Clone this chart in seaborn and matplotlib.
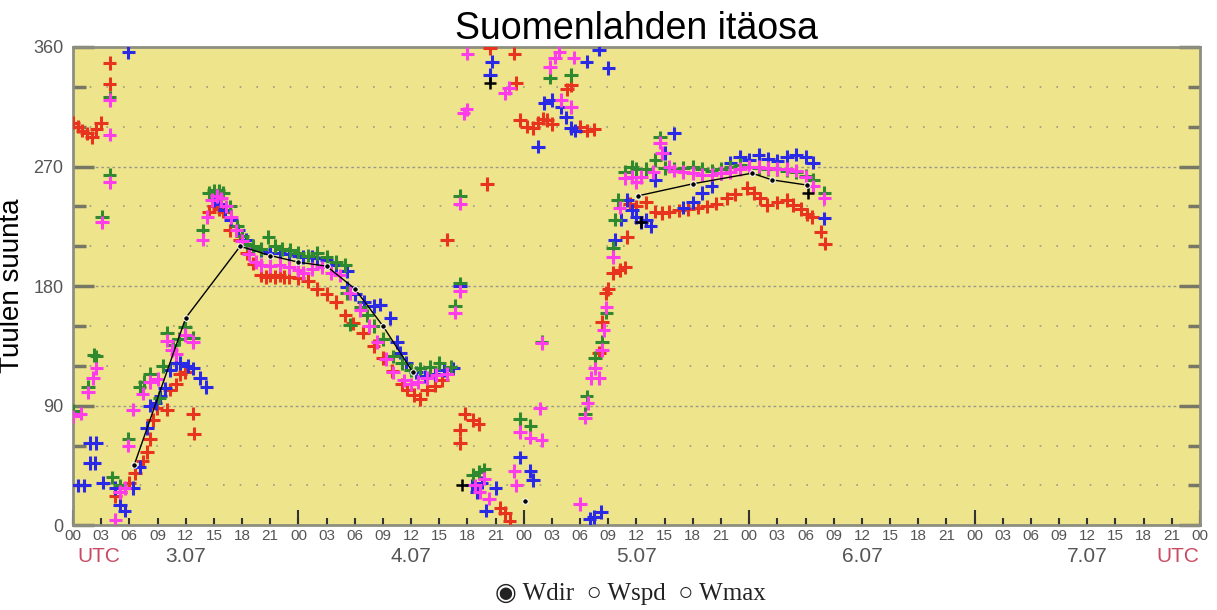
import pandas as pd
import matplotlib
matplotlib.use("Agg")
import matplotlib.pyplot as plt
import matplotlib.transforms as mtransforms
import seaborn as sns
from matplotlib.ticker import FixedLocator

# ------------------------ data: (hours from 3.07 00 UTC, wind direction) ------------------------
red = [
    (0, 303), (0.5, 300), (1, 297), (1.5, 295), (2, 292), (2.5, 298), (3, 303), (3.9, 348), (3.9, 332),
    (4.5, 22), (5, 25), (6, 32), (6.6, 39), (7.4, 48), (7.9, 55), (8.2, 65), (8.5, 79), (8.9, 88), (10, 87),
    (10.3, 102), (11, 106), (11.4, 114), (11.9, 115), (12.8, 84), (12.9, 69),
    (14.5, 236), (15, 240), (15.5, 238), (16, 236), (16.7, 222), (17.8, 215), (18.5, 205), (19.2, 197),
    (20, 188), (20.5, 187), (21, 188), (21.5, 187), (22, 188), (22.5, 187), (23, 187), (24, 186), (25, 184),
    (26, 178), (27, 174), (28, 168), (29, 158), (29.8, 152), (30.9, 145), (32, 135), (33, 126), (34, 116),
    (35, 106), (35.6, 102), (36.3, 98), (37, 95), (37.7, 102), (38.5, 105), (39.3, 109),
    (39.8, 215), (41.2, 62), (41.2, 72), (41.7, 84), (42.6, 79), (43.2, 76), (44.1, 257), (44.4, 359),
    (45.5, 13), (46, 9), (46.5, 3), (47, 355), (47.2, 333), (47.6, 305), (48.3, 300), (49, 299), (49.5, 303),
    (50, 306), (50.5, 305), (51, 302), (52.6, 328), (53, 331), (54, 300), (54.7, 297), (55.5, 298),
    (56, 130), (56.3, 153), (56.7, 175), (57, 178), (57.5, 190), (58.2, 192), (58.8, 194), (59, 217),
    (59.3, 242), (60, 240), (61, 243), (62, 236), (62.7, 235), (63.5, 236), (64.5, 237), (65.5, 238),
    (66.5, 239), (67.5, 240), (68.5, 242), (69.6, 246), (70.5, 249), (71.8, 254), (72.5, 250), (73.2, 246),
    (73.9, 241), (75, 243), (76, 245), (76.7, 241), (77.5, 238), (78.2, 234), (78.7, 232), (79.6, 221),
    (80.1, 212),
]

blue = [
    (0.5, 30), (1.2, 30), (1.8, 47), (2.3, 47), (1.8, 62), (2.5, 62), (3.2, 32), (4.5, 28), (5, 15),
    (5.5, 11), (5.9, 356), (6.4, 28), (7.1, 44), (7.9, 73), (8.2, 90), (8.8, 92), (9.3, 97), (9.8, 103),
    (10.3, 117), (11, 122), (11.4, 122), (12.2, 120), (12.8, 118), (13.5, 111), (14.2, 104),
    (15, 245), (15.6, 242), (16.2, 237), (16.8, 230), (17.6, 222), (18.4, 215), (19.2, 209), (20, 207),
    (21, 205), (22, 205), (23, 204), (24, 203), (24.5, 202), (25.5, 202), (26, 201), (27, 200), (28, 196),
    (29.2, 191), (29.2, 179), (30, 174), (31, 168), (32, 165), (32.7, 166), (33.8, 156), (34.5, 138),
    (34.8, 130), (35.5, 122), (36.5, 115), (37.5, 112), (38.5, 114), (39.5, 117), (40.5, 118),
    (41.2, 180), (42.5, 30), (43, 25), (43.5, 32), (44, 11), (44.4, 339), (44.6, 349), (45, 28),
    (47.6, 51), (48.7, 41), (49, 34), (49.5, 285), (50.2, 318), (51, 320), (52, 315), (52.5, 307), (53, 299),
    (53.5, 297), (54.7, 349), (55, 5), (55.5, 6), (56, 358), (56.2, 10), (57, 344),
    (57.7, 215), (58.3, 230), (59, 245), (59.5, 237), (60, 232), (60.5, 228), (61, 230), (61.5, 225),
    (62, 260), (63, 280), (64, 295), (65, 239), (66, 243), (67, 250), (68, 255), (69, 265), (70, 273),
    (71, 277), (72, 275), (73, 279), (74, 276), (75, 274), (76, 277), (77, 279), (78, 277), (78.8, 273),
    (80, 231),
]

green = [
    (0, 86), (1.6, 104), (2.2, 128), (2.5, 127), (3.1, 232), (3.9, 264), (3.9, 322), (4.2, 36), (5, 30),
    (5.9, 65), (7.1, 104), (7.6, 108), (8.2, 114), (9.2, 96), (9.6, 120), (10, 145), (10.6, 136),
    (11.3, 140), (11.9, 149), (12.8, 141),
    (13.8, 222), (14.5, 250), (15, 252), (15.5, 252), (16, 250), (16.7, 240), (17.5, 225), (18, 218),
    (18.5, 212), (19.2, 210), (20, 208), (20.8, 217), (21.5, 210), (22.3, 208), (23.1, 207), (24, 205),
    (25, 203), (26, 205), (27, 202), (28, 198), (29, 196), (29.2, 175), (29.5, 151), (30.6, 164),
    (31.3, 158), (32, 150), (33, 140), (34.1, 127), (35, 122), (36, 117), (37, 118), (38, 119), (39, 122),
    (40.2, 119),
    (40.7, 165), (41.2, 182), (41.2, 248), (42.6, 38), (43.2, 40), (43.8, 42), (47.6, 80), (48.7, 75),
    (49.9, 138), (50.8, 337), (53, 339), (54.5, 84), (54.7, 97), (55.6, 126), (56.3, 138), (56.8, 160),
    (57.5, 209), (57.7, 230), (58, 245), (58.8, 266), (59.5, 270), (60, 268), (61, 268), (62, 275),
    (62.5, 292), (63, 269), (64, 268), (65, 269), (66, 270), (67, 268), (68, 267), (69, 268), (70, 270),
    (71, 271), (72, 270), (73, 269), (74, 268), (75, 268), (76, 267), (77, 266), (78, 263), (78.8, 260),
    (80, 250),
]

magenta = [
    (0, 82), (0.8, 84), (1.6, 100), (2.1, 111), (2.5, 118), (3.1, 228), (3.9, 320), (3.9, 294), (3.9, 258),
    (4.5, 4), (5, 25), (5.5, 28), (5.9, 60), (6.4, 87), (7.4, 99), (8.2, 108), (9, 110), (10, 139),
    (10.5, 132), (11, 129), (11.9, 143), (12.8, 138),
    (13.8, 215), (14.3, 232), (14.8, 245), (15.3, 248), (15.8, 246), (16.3, 240), (16.8, 232), (17.4, 222),
    (18, 214), (18.7, 204), (19.5, 198), (20, 196), (21, 195), (22, 196), (23, 194), (24, 192), (24.5, 190),
    (25.5, 193), (26.5, 194), (27.5, 190), (28.4, 188), (29.5, 175), (30.6, 162), (31.5, 150), (32.4, 138),
    (33.3, 125), (34.1, 115), (35.2, 109), (36, 106), (36.7, 108), (37.7, 111), (38.7, 113), (39.8, 114),
    (40.7, 160), (41.2, 176), (41.2, 242), (41.6, 310), (41.9, 313), (42, 355), (42.8, 30), (43.3, 25),
    (43.8, 35), (44.3, 20), (46, 325), (46.4, 329), (47, 41), (47.2, 30), (47.6, 70), (48.7, 66),
    (49.7, 88), (49.9, 64), (49.9, 137), (50.8, 345), (51.3, 352), (51.8, 356), (52, 320), (53, 315),
    (53.3, 352), (54, 16), (54.5, 81), (54.8, 92), (55.2, 111), (55.6, 118), (56, 111), (56.3, 132),
    (56.5, 147), (56.8, 164), (57.5, 202), (58.2, 239), (58.8, 261), (59.5, 262), (60, 258), (60.5, 262),
    (61.8, 266), (62.5, 288), (62.7, 280), (63.5, 270), (64, 267), (65, 266), (66, 265), (67, 264),
    (68, 264), (69, 265), (70, 266), (71, 268), (72, 270), (73, 270), (74, 269), (75, 268), (76, 268),
    (77, 267), (78, 262), (78.8, 255), (80, 246),
]

# black reference line, split in segments
black_seg1 = [(6.5, 45), (12, 156), (17.8, 210), (21, 203), (24, 198), (27, 195), (30, 178), (33, 150), (36.2, 115)]
black_seg2 = [(48.1, 18)]
black_seg3 = [(60.2, 248), (66, 257), (72.3, 265), (74.4, 260), (78.2, 256)]
black_plus = [(41.4, 30), (44.4, 333), (60.5, 228), (78.3, 250)]

hour_labels = ["00", "03", "06", "09", "12", "15", "18", "21"] * 5 + ["00"]
day_labels = ["3.07", "4.07", "5.07", "6.07", "7.07"]
y_ticks = [0, 90, 180, 270, 360]

colors = {"red": "#E8331E", "blue": "#2A2AE6", "green": "#2F8A2F", "magenta": "#FF3CEA"}

# ------------------------ build tables ------------------------
frames = []
for name, pts in [("red", red), ("blue", blue), ("green", green), ("magenta", magenta)]:
    d = pd.DataFrame(pts, columns=["tunti", "suunta"])
    d["asema"] = name
    frames.append(d)
df = pd.concat(frames, ignore_index=True)

blk = []
for i, seg in enumerate([black_seg1, black_seg2, black_seg3]):
    d = pd.DataFrame(seg, columns=["tunti", "suunta"])
    d["seg"] = i
    blk.append(d)
df_black = pd.concat(blk, ignore_index=True)
df_bplus = pd.DataFrame(black_plus, columns=["tunti", "suunta"])

# ------------------------ plot ------------------------
plt.rcParams["font.family"] = ["Liberation Sans", "DejaVu Sans"]
fig = plt.figure(figsize=(12.17, 6.10), dpi=100)
ax = fig.add_axes([0.060, 0.139, 0.926, 0.784])
ax.set_facecolor("#EEE48C")

sns.scatterplot(data=df, x="tunti", y="suunta", hue="asema", palette=colors, marker="+",
                s=95, linewidth=2.2, legend=False, ax=ax, zorder=3)
sns.scatterplot(data=df_bplus, x="tunti", y="suunta", color="black", marker="+",
                s=70, linewidth=1.8, legend=False, ax=ax, zorder=4)
sns.lineplot(data=df_black, x="tunti", y="suunta", units="seg", estimator=None, sort=False,
             color="black", lw=1, marker="o", markersize=4, ax=ax, zorder=5)

ax.set_xlim(0, 120)
ax.set_ylim(0, 360)

# y axis
ax.yaxis.set_major_locator(FixedLocator(y_ticks))
ax.yaxis.set_minor_locator(FixedLocator(list(range(0, 361, 30))))
ax.set_yticklabels([str(v) for v in y_ticks])
ax.tick_params(axis="y", which="major", direction="in", length=15, width=2.5, color="#777766",
               labelsize=13, labelcolor="#555555", pad=7, right=True)
ax.tick_params(axis="y", which="minor", direction="in", length=9, width=2.5, color="#777766", right=True)
ax.grid(axis="y", which="major", color="#9A9A88", linestyle=(0, (2, 2)), lw=1)
ax.grid(axis="y", which="minor", color="#9A9A88", linestyle=(0, (1, 9)), lw=1.2)
ax.set_axisbelow(True)

# x axis: labels every 3 h, taller ticks at midnight
ax.xaxis.set_major_locator(FixedLocator(list(range(0, 121, 3))))
ax.set_xticklabels(hour_labels)
ax.xaxis.set_minor_locator(FixedLocator(list(range(0, 121, 24))))
ax.xaxis.remove_overlapping_locs = False
ax.tick_params(axis="x", which="major", direction="in", length=5, width=1.5, color="#333333",
               labelsize=11, labelcolor="#555555", pad=3)
ax.tick_params(axis="x", which="minor", direction="in", length=11, width=1.5, color="#333333")

for sp in ax.spines.values():
    sp.set_color("#8E8E80")
    sp.set_linewidth(2)

ax.set_xlabel("")
ax.set_ylabel("Tuulen suunta", fontsize=20, color="black", labelpad=6)
ax.set_title("Suomenlahden itäosa", fontsize=27, pad=3)

trans = mtransforms.blended_transform_factory(ax.transData, ax.transAxes)
for i, lab in enumerate(day_labels):
    ax.text(12 + 24 * i, -0.065, lab, transform=trans, ha="center", va="center",
            fontsize=15, color="#555555")
ax.text(2.7, -0.065, "UTC", transform=trans, ha="center", va="center", fontsize=15, color="#C94A63")
ax.text(117.6, -0.065, "UTC", transform=trans, ha="center", va="center", fontsize=15, color="#C94A63")

fig.text(0.518, 0.027, "◉ Wdir  ○ Wspd  ○ Wmax", ha="center", va="center", fontsize=18,
         family=["Liberation Serif", "DejaVu Sans"], color="#222222")

fig.savefig("out.png", dpi=100)
